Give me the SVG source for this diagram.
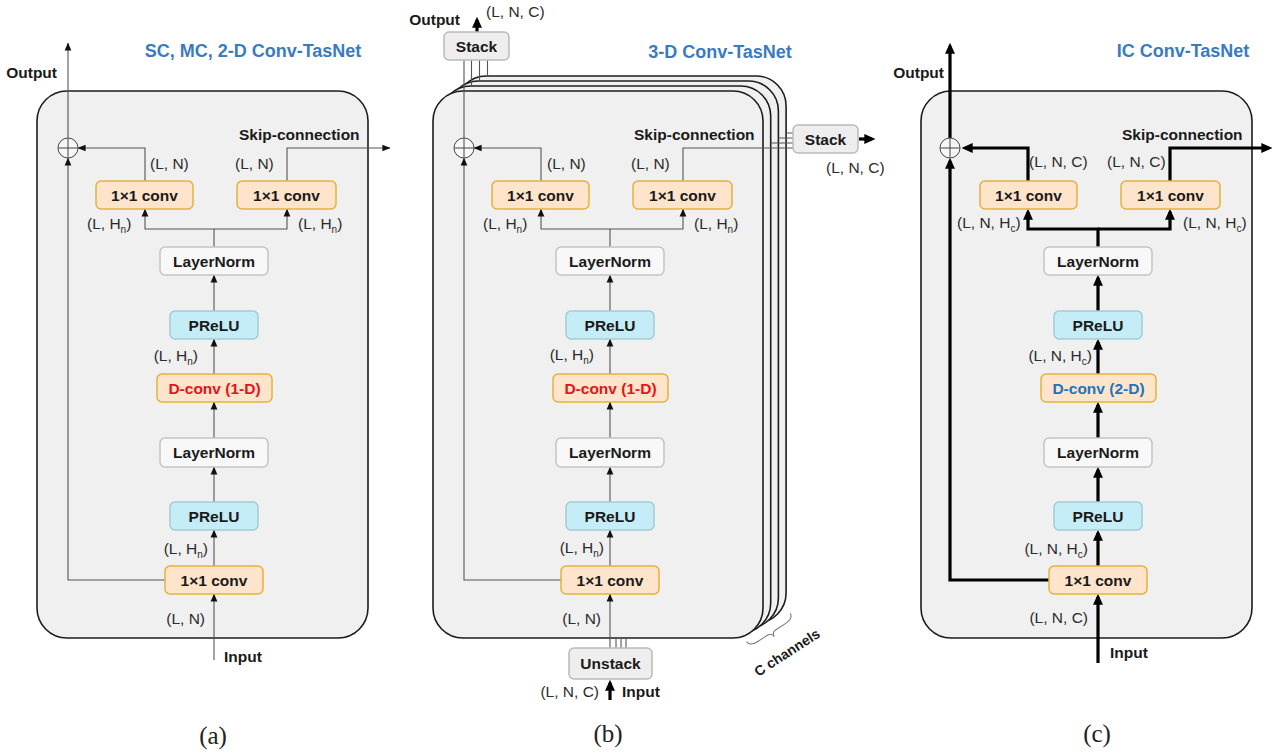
<svg xmlns="http://www.w3.org/2000/svg" width="1280" height="754" viewBox="0 0 1280 754">
<defs>
<style>
.frame{fill:#f0f0f0;stroke:#1c1c1c;stroke-width:1.6}
.conv{fill:#fde4cb;stroke:#e3b23c;stroke-width:1.5}
.prelu{fill:#c4edf7;stroke:#a3cbd6;stroke-width:1.5}
.ln{fill:#f8f8f8;stroke:#c4c4c4;stroke-width:1.5}
.stk{fill:#eeeeee;stroke:#bbbbbb;stroke-width:1.5}
.sum{fill:#f7f7f7;stroke:#444;stroke-width:1}
.plus{stroke:#444;stroke-width:1}
.bt{font-family:"Liberation Sans",Arial,sans-serif;font-weight:bold;font-size:15.5px;fill:#1a1a1a;text-anchor:middle}
.lbl{font-family:"Liberation Sans",Arial,sans-serif;font-weight:bold;font-size:15.5px;fill:#1a1a1a}
.dim{font-family:"Liberation Sans",Arial,sans-serif;font-size:15.5px;fill:#2b2b2b}
.end{text-anchor:end}
.sub{font-size:10px}
.title{font-family:"Liberation Sans",Arial,sans-serif;font-weight:bold;font-size:18px;fill:#3a7bbf;text-anchor:middle}
.cap{font-family:"Liberation Serif","Times New Roman",serif;font-size:25px;fill:#222;text-anchor:middle}
.red{fill:#e5131b}
.blue{fill:#2074c0}
.thin{fill:none;stroke:#555;stroke-width:1.1}
.thick{fill:none;stroke:#000;stroke-width:3.2}
.brace{fill:none;stroke:#777;stroke-width:1}
</style>
<marker id="ah" viewBox="0 0 10 10" refX="9.5" refY="5" markerWidth="8" markerHeight="8" markerUnits="userSpaceOnUse" orient="auto"><path d="M0,0.8 L10,5 L0,9.2z" fill="#111"/></marker>
<marker id="ahb" viewBox="0 0 10 10" refX="7" refY="5" markerWidth="11" markerHeight="11" markerUnits="userSpaceOnUse" orient="auto"><path d="M0,0.5 L10,5 L0,9.5z" fill="#000"/></marker>
</defs>

<!-- block outlines -->
<g id="frames">
  <rect class="frame" x="37" y="91" width="331" height="547" rx="30"/>
  <!-- C stacked channel blocks, back to front -->
  <rect class="frame" x="456.1" y="76" width="330" height="547" rx="30"/>
  <rect class="frame" x="448.4" y="81" width="330" height="547" rx="30"/>
  <rect class="frame" x="440.7" y="86" width="330" height="547" rx="30"/>
  <rect class="frame" x="433" y="91" width="330" height="547" rx="30"/>
  <rect class="frame" x="921" y="91" width="331" height="547" rx="30"/>
</g>

<!-- connectors -->
<g id="connectors">
  <g id="conn-a">
    <path class="thin" d="M214,660 V594" marker-end="url(#ah)"/>
    <path class="thin" d="M214,566 V530" marker-end="url(#ah)"/>
    <path class="thin" d="M214,502 V467" marker-end="url(#ah)"/>
    <path class="thin" d="M214,438 V402" marker-end="url(#ah)"/>
    <path class="thin" d="M214,374 V339" marker-end="url(#ah)"/>
    <path class="thin" d="M214,311 V275" marker-end="url(#ah)"/>
    <path class="thin" d="M214,247 V229 H145 V209" marker-end="url(#ah)"/>
    <path class="thin" d="M214,229 H287 V209" marker-end="url(#ah)"/>
    <path class="thin" d="M145,181 V148 H78" marker-end="url(#ah)"/>
    <path class="thin" d="M287,181 V148 H390" marker-end="url(#ah)"/>
    <path class="thin" d="M165,580 H68 V158" marker-end="url(#ah)"/>
    <path class="thin" d="M68,138 V43" marker-end="url(#ah)"/>
  </g>
  <g id="conn-b">
    <g transform="translate(396,0)">
      <path class="thin" d="M214,648 V594" marker-end="url(#ah)"/>
      <path class="thin" d="M214,566 V530" marker-end="url(#ah)"/>
      <path class="thin" d="M214,502 V467" marker-end="url(#ah)"/>
      <path class="thin" d="M214,438 V402" marker-end="url(#ah)"/>
      <path class="thin" d="M214,374 V339" marker-end="url(#ah)"/>
      <path class="thin" d="M214,311 V275" marker-end="url(#ah)"/>
      <path class="thin" d="M214,247 V229 H145 V209" marker-end="url(#ah)"/>
      <path class="thin" d="M214,229 H287 V209" marker-end="url(#ah)"/>
      <path class="thin" d="M145,181 V148 H78" marker-end="url(#ah)"/>
      <path class="thin" d="M287,181 V148 H397"/>
      <path class="thin" d="M165,580 H68 V158" marker-end="url(#ah)"/>
      <path class="thin" d="M68,138 V60"/>
    </g>
    <!-- per-channel taps into the stack / unstack blocks -->
    <path class="thin" d="M471.5,60 V86 M479.5,60 V81 M487.5,60 V76"/>
    <path class="thin" d="M770.7,143 H793 M778.4,138 H793 M786.1,133 H793"/>
    <path class="thin" d="M616,639 V648 M621,639 V648 M626,639 V648"/>
    <path class="thick" d="M477,32 V20" marker-end="url(#ahb)"/>
    <path class="thick" d="M859,139 H872" marker-end="url(#ahb)"/>
    <path class="thick" d="M610,700 V683" marker-end="url(#ahb)"/>
  </g>
  <g id="conn-c" transform="translate(884,0)">
    <path class="thick" d="M214,663 V597" marker-end="url(#ahb)"/>
    <path class="thick" d="M214,566 V533" marker-end="url(#ahb)"/>
    <path class="thick" d="M214,502 V470" marker-end="url(#ahb)"/>
    <path class="thick" d="M214,438 V405" marker-end="url(#ahb)"/>
    <path class="thick" d="M214,374 V342" marker-end="url(#ahb)"/>
    <path class="thick" d="M214,311 V278" marker-end="url(#ahb)"/>
    <path class="thick" d="M214,247 V229 H144 V212" marker-end="url(#ahb)"/>
    <path class="thick" d="M214,229 H286 V212" marker-end="url(#ahb)"/>
    <path class="thick" d="M144,181 V148 H81" marker-end="url(#ahb)"/>
    <path class="thick" d="M286,181 V148 H385" marker-end="url(#ahb)"/>
    <path class="thick" d="M165,580 H66 V161" marker-end="url(#ahb)"/>
    <path class="thick" d="M66,138 V46" marker-end="url(#ahb)"/>
  </g>
</g>

<!-- panel (a) blocks -->
<g id="panel-a">
  <g id="a-sum"><circle class="sum" cx="68" cy="148" r="10"/><path class="plus" d="M58.5,148 H77.5 M68,138.5 V157.5"/></g>
  <g id="a-conv-res"><rect class="conv" x="96" y="181" width="97" height="28" rx="5"/><text class="bt" x="144.5" y="200.5">1×1 conv</text></g>
  <g id="a-conv-skip"><rect class="conv" x="237" y="181" width="99" height="28" rx="5"/><text class="bt" x="286.5" y="200.5">1×1 conv</text></g>
  <g id="a-ln1"><rect class="ln" x="160" y="247" width="108" height="28" rx="5"/><text class="bt" x="214" y="266.5">LayerNorm</text></g>
  <g id="a-prelu1"><rect class="prelu" x="170" y="311" width="88" height="28" rx="5"/><text class="bt" x="214" y="330.5">PReLU</text></g>
  <g id="a-dconv"><rect class="conv" x="157" y="374" width="115" height="28" rx="5"/><text class="bt red" x="214.5" y="393.5">D-conv (1-D)</text></g>
  <g id="a-ln2"><rect class="ln" x="160" y="438" width="108" height="29" rx="5"/><text class="bt" x="214" y="458">LayerNorm</text></g>
  <g id="a-prelu2"><rect class="prelu" x="170" y="502" width="88" height="28" rx="5"/><text class="bt" x="214" y="521.5">PReLU</text></g>
  <g id="a-conv-in"><rect class="conv" x="165" y="566" width="98" height="28" rx="5"/><text class="bt" x="214" y="585.5">1×1 conv</text></g>
</g>

<!-- panel (b) blocks -->
<g id="panel-b">
  <g transform="translate(396,0)">
    <g id="b-sum"><circle class="sum" cx="68" cy="148" r="10"/><path class="plus" d="M58.5,148 H77.5 M68,138.5 V157.5"/></g>
    <g id="b-conv-res"><rect class="conv" x="96" y="181" width="97" height="28" rx="5"/><text class="bt" x="144.5" y="200.5">1×1 conv</text></g>
    <g id="b-conv-skip"><rect class="conv" x="237" y="181" width="99" height="28" rx="5"/><text class="bt" x="286.5" y="200.5">1×1 conv</text></g>
    <g id="b-ln1"><rect class="ln" x="160" y="247" width="108" height="28" rx="5"/><text class="bt" x="214" y="266.5">LayerNorm</text></g>
    <g id="b-prelu1"><rect class="prelu" x="170" y="311" width="88" height="28" rx="5"/><text class="bt" x="214" y="330.5">PReLU</text></g>
    <g id="b-dconv"><rect class="conv" x="157" y="374" width="115" height="28" rx="5"/><text class="bt red" x="214.5" y="393.5">D-conv (1-D)</text></g>
    <g id="b-ln2"><rect class="ln" x="160" y="438" width="108" height="29" rx="5"/><text class="bt" x="214" y="458">LayerNorm</text></g>
    <g id="b-prelu2"><rect class="prelu" x="170" y="502" width="88" height="28" rx="5"/><text class="bt" x="214" y="521.5">PReLU</text></g>
    <g id="b-conv-in"><rect class="conv" x="165" y="566" width="98" height="28" rx="5"/><text class="bt" x="214" y="585.5">1×1 conv</text></g>
  </g>
  <g id="b-stack-out"><rect class="stk" x="444" y="32" width="65" height="28" rx="5"/><text class="bt" x="476.5" y="51.5">Stack</text></g>
  <g id="b-stack-skip"><rect class="stk" x="793" y="125" width="65" height="28" rx="5"/><text class="bt" x="825.5" y="144.5">Stack</text></g>
  <g id="b-unstack"><rect class="stk" x="569" y="648" width="83" height="31" rx="5"/><text class="bt" x="610.5" y="669">Unstack</text></g>
</g>

<!-- panel (c) blocks -->
<g id="panel-c" transform="translate(884,0)">
  <g id="c-sum"><circle class="sum" cx="66" cy="148" r="10"/><path class="plus" d="M56.5,148 H75.5 M66,138.5 V157.5"/></g>
  <g id="c-conv-res"><rect class="conv" x="96" y="181" width="97" height="28" rx="5"/><text class="bt" x="144.5" y="200.5">1×1 conv</text></g>
  <g id="c-conv-skip"><rect class="conv" x="237" y="181" width="99" height="28" rx="5"/><text class="bt" x="286.5" y="200.5">1×1 conv</text></g>
  <g id="c-ln1"><rect class="ln" x="160" y="247" width="108" height="28" rx="5"/><text class="bt" x="214" y="266.5">LayerNorm</text></g>
  <g id="c-prelu1"><rect class="prelu" x="170" y="311" width="88" height="28" rx="5"/><text class="bt" x="214" y="330.5">PReLU</text></g>
  <g id="c-dconv"><rect class="conv" x="157" y="374" width="115" height="28" rx="5"/><text class="bt blue" x="214.5" y="393.5">D-conv (2-D)</text></g>
  <g id="c-ln2"><rect class="ln" x="160" y="438" width="108" height="29" rx="5"/><text class="bt" x="214" y="458">LayerNorm</text></g>
  <g id="c-prelu2"><rect class="prelu" x="170" y="502" width="88" height="28" rx="5"/><text class="bt" x="214" y="521.5">PReLU</text></g>
  <g id="c-conv-in"><rect class="conv" x="165" y="566" width="98" height="28" rx="5"/><text class="bt" x="214" y="585.5">1×1 conv</text></g>
</g>

<!-- labels -->
<g id="labels-a">
  <text class="title" x="253" y="57">SC, MC, 2-D Conv-TasNet</text>
  <text class="lbl end" x="57" y="78">Output</text>
  <text class="lbl" x="239" y="140">Skip-connection</text>
  <text class="dim" x="150" y="169">(L, N)</text>
  <text class="dim" x="235" y="169">(L, N)</text>
  <text class="dim" x="87" y="229">(L, H<tspan class="sub" dy="4">n</tspan><tspan dy="-4">)</tspan></text>
  <text class="dim" x="298" y="229">(L, H<tspan class="sub" dy="4">n</tspan><tspan dy="-4">)</tspan></text>
  <text class="dim end" x="198" y="361">(L, H<tspan class="sub" dy="4">n</tspan><tspan dy="-4">)</tspan></text>
  <text class="dim end" x="208" y="554">(L, H<tspan class="sub" dy="4">n</tspan><tspan dy="-4">)</tspan></text>
  <text class="dim end" x="205" y="624">(L, N)</text>
  <text class="lbl" x="224" y="662">Input</text>
  <text class="cap" x="213" y="744">(a)</text>
</g>
<g id="labels-b">
  <text class="title" x="720" y="58">3-D Conv-TasNet</text>
  <text class="lbl end" x="460" y="25">Output</text>
  <text class="dim" x="486" y="17">(L, N, C)</text>
  <text class="lbl" x="634" y="140">Skip-connection</text>
  <text class="dim" x="826" y="173">(L, N, C)</text>
  <text class="dim" x="547" y="169">(L, N)</text>
  <text class="dim" x="631" y="169">(L, N)</text>
  <text class="dim" x="483" y="229">(L, H<tspan class="sub" dy="4">n</tspan><tspan dy="-4">)</tspan></text>
  <text class="dim" x="694" y="229">(L, H<tspan class="sub" dy="4">n</tspan><tspan dy="-4">)</tspan></text>
  <text class="dim end" x="594" y="360">(L, H<tspan class="sub" dy="4">n</tspan><tspan dy="-4">)</tspan></text>
  <text class="dim end" x="604" y="553">(L, H<tspan class="sub" dy="4">n</tspan><tspan dy="-4">)</tspan></text>
  <text class="dim end" x="601" y="624">(L, N)</text>
  <text class="dim end" x="599" y="697">(L, N, C)</text>
  <text class="lbl" x="622" y="697">Input</text>
  <g transform="translate(770,630) rotate(-33)">
    <path class="brace" d="M-26,-3 C-26,2 -22,3 -16,3 L-5,3 C-1,3 0,5 0,8 C0,5 1,3 5,3 L16,3 C22,3 26,2 26,-3"/>
    <text class="bt" x="2" y="33" style="font-size:14px">C channels</text>
  </g>
  <text class="cap" x="608" y="742">(b)</text>
</g>
<g id="labels-c">
  <text class="title" x="1183" y="57">IC Conv-TasNet</text>
  <text class="lbl end" x="944" y="78">Output</text>
  <text class="lbl" x="1122" y="140">Skip-connection</text>
  <text class="dim" x="1029" y="167">(L, N, C)</text>
  <text class="dim" x="1107" y="167">(L, N, C)</text>
  <text class="dim" x="957" y="228">(L, N, H<tspan class="sub" dy="4">c</tspan><tspan dy="-4">)</tspan></text>
  <text class="dim" x="1183" y="228">(L, N, H<tspan class="sub" dy="4">c</tspan><tspan dy="-4">)</tspan></text>
  <text class="dim end" x="1092" y="361">(L, N, H<tspan class="sub" dy="4">c</tspan><tspan dy="-4">)</tspan></text>
  <text class="dim end" x="1088" y="554">(L, N, H<tspan class="sub" dy="4">c</tspan><tspan dy="-4">)</tspan></text>
  <text class="dim end" x="1088" y="623">(L, N, C)</text>
  <text class="lbl" x="1110" y="658">Input</text>
  <text class="cap" x="1097" y="742">(c)</text>
</g>
</svg>
